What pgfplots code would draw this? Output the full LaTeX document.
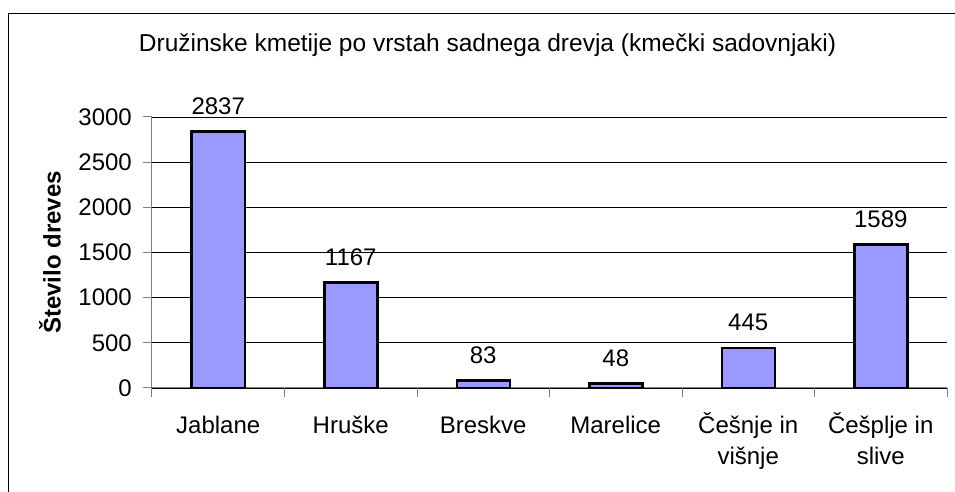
\documentclass[border=0pt]{standalone}
\usepackage{fontspec}
\setmainfont{Liberation Sans}
\usepackage{pgfplots}
\pgfplotsset{compat=1.18}
\definecolor{barblue}{HTML}{9999FF}
\definecolor{axgray}{HTML}{808080}
\newcommand{\up}{\rule{0pt}{26pt}}
\newcommand{\dn}{\rule[-8pt]{0pt}{8pt}}
\begin{document}
\fontsize{24}{31}\selectfont
\begin{tikzpicture}[x=1pt,y=1pt]
\path[use as bounding box] (-152,-104) rectangle (803,388);
\begin{axis}[
  at={(0,0)}, anchor=south west,
  scale only axis, width=795pt, height=271pt,
  xmin=-0.5, xmax=5.5, ymin=0, ymax=3000,
  axis x line*=bottom, axis y line*=left,
  axis line style={axgray, line width=1pt, -},
  xtick={0,...,5},
  xticklabels={{\up Jablane\\\dn}, {\up Hruške\\\dn}, {\up Breskve\\\dn}, {\up Marelice\\\dn},
    {\up Češnje in\\višnje\dn}, {\up Češplje in\\slive\dn}},
  minor xtick={-0.5,0.5,...,5.5},
  ytick={0,500,...,3000},
  minor ytick={0,500,...,3000},
  major tick length=0pt, minor tick length=9pt,
  tick align=outside,
  tick style={axgray, line width=1pt},
  ymajorgrids, major grid style={black, line width=0.8pt},
  /pgf/number format/assume math mode=true,
  /pgf/number format/1000 sep={},
  xticklabel style={align=center, anchor=north, inner sep=0pt, yshift=-19pt},
  yticklabel style={anchor=east, inner sep=0pt, xshift=-20pt},
  nodes near coords, point meta=y,
  nodes near coords style={anchor=base, yshift=17pt},
]
\addplot[ybar, bar width=53pt, fill=barblue, draw=black, line width=2.5pt]
  coordinates {(0,2837) (1,1167) (2,83) (3,48) (4,445) (5,1589)};
\end{axis}
\node[rotate=90, font=\bfseries] at (-102,135.5) {Število dreves};
\node[anchor=base, font=\fontsize{24.5}{30}\selectfont] at (335.5,336) {Družinske kmetije po vrstah sadnega drevja (kmečki sadovnjaki)};
\draw[black, line width=1.5pt] (-143.5,-200) -- (-143.5,374.5) -- (900,374.5);
\end{tikzpicture}
\end{document}
